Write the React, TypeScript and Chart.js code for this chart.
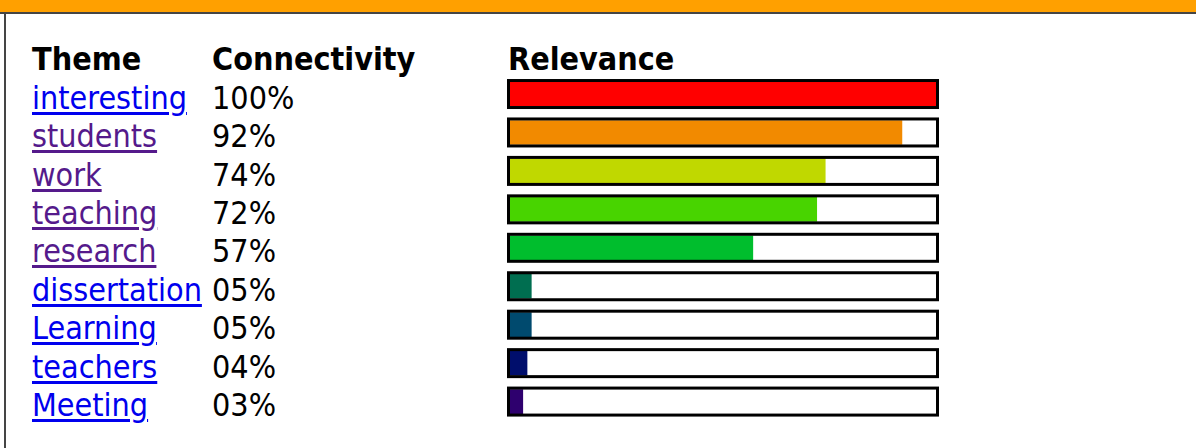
import React, { useEffect, useRef } from "react";
import { Chart, registerables } from "chart.js";

Chart.register(...registerables);

const themes = ["interesting", "students", "work", "teaching", "research", "dissertation", "Learning", "teachers", "Meeting"];
const connectivity = [100, 92, 74, 72, 57, 5, 5, 4, 3];
const barColors = ["#FF0000", "#F28A00", "#C0D800", "#48D400", "#00BE2D", "#006E50", "#004A6E", "#000E6C", "#2E006E"];
const visited = [false, true, true, true, true, false, false, false, false];
const headers = ["Theme", "Connectivity", "Relevance"];

const FONT = '"DejaVu Sans Condensed", "DejaVu Sans", Verdana, sans-serif';
const ROW_H = 38.44;

const frameBoxes = {
  id: "frameBoxes",
  afterDatasetsDraw(chart: any) {
    const ctx = chart.ctx;
    const xs = chart.scales.x;
    const meta = chart.getDatasetMeta(0);
    const x0 = xs.getPixelForValue(0);
    const x1 = xs.getPixelForValue(100);
    ctx.save();
    ctx.strokeStyle = "#000";
    ctx.lineWidth = 3;
    meta.data.forEach((el: any) => {
      const { y, height } = el.getProps(["y", "height"], true);
      ctx.strokeRect(x0 - 1.5, y - height / 2 - 1.5, x1 - x0 + 3, height + 3);
    });
    ctx.restore();
  },
};

export default function App() {
  const ref = useRef<HTMLCanvasElement>(null);

  useEffect(() => {
    document.body.style.margin = "0";
    const chart = new Chart(ref.current!, {
      type: "bar",
      data: {
        labels: themes,
        datasets: [
          {
            data: connectivity,
            backgroundColor: barColors,
            borderWidth: 0,
            barThickness: 24,
          },
        ],
      },
      options: {
        indexAxis: "y",
        animation: false,
        responsive: false,
        maintainAspectRatio: false,
        layout: { padding: { left: 30, right: 24, top: 4.8, bottom: 9.2 } },
        scales: {
          x: { display: false, min: 0, max: 100 },
          y: { display: false, offset: true },
        },
        plugins: { legend: { display: false }, tooltip: { enabled: false } },
      },
      plugins: [frameBoxes],
    });
    return () => chart.destroy();
  }, []);

  const textBase: React.CSSProperties = {
    position: "absolute",
    fontFamily: FONT,
    fontStretch: "condensed",
    fontSize: 32,
    lineHeight: ROW_H + "px",
    whiteSpace: "nowrap",
    color: "#000",
  };

  return (
    <div style={{ position: "fixed", left: 0, top: 0, width: 1196, height: 448, background: "#fff", overflow: "hidden" }}>
      <div style={{ position: "absolute", left: 0, top: 0, width: 1196, height: 12, background: "#FFA000" }} />
      <div style={{ position: "absolute", left: 0, top: 12, width: 1196, height: 2, background: "#454545" }} />
      <div style={{ position: "absolute", left: 4, top: 12, width: 2, height: 436, background: "#454545" }} />

      <div style={{ ...textBase, left: 32, top: 39.7, fontWeight: "bold" }}>{headers[0]}</div>
      <div style={{ ...textBase, left: 212, top: 39.7, fontWeight: "bold" }}>{headers[1]}</div>
      <div style={{ ...textBase, left: 508, top: 39.7, fontWeight: "bold" }}>{headers[2]}</div>

      <div style={{ ...textBase, left: 32, top: 78.7 }}>
        {themes.map((t, i) => (
          <div key={t}>
            <span
              style={{
                color: visited[i] ? "#551A8B" : "#0000EE",
                textDecoration: "underline",
                textDecorationThickness: "3px",
                textUnderlineOffset: "3px",
              }}
            >
              {t}
            </span>
          </div>
        ))}
      </div>
      <div style={{ ...textBase, left: 212, top: 78.7 }}>
        {connectivity.map((v, i) => (
          <div key={i}>{String(v).padStart(2, "0") + "%"}</div>
        ))}
      </div>

      <canvas ref={ref} width={480} height={360} style={{ position: "absolute", left: 480, top: 70, width: 480, height: 360 }} />
    </div>
  );
}
